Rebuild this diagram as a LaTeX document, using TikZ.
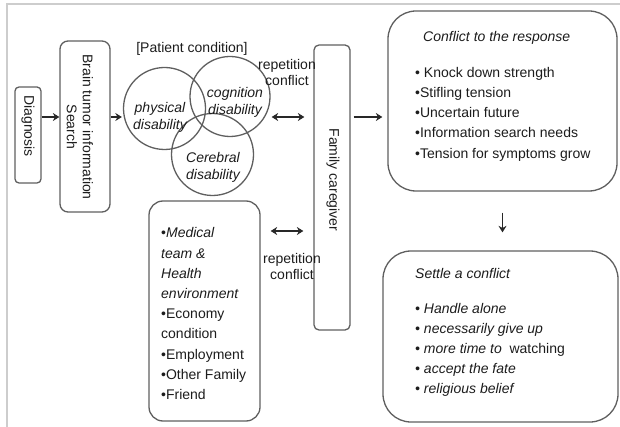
\documentclass[tikz,border=0pt]{standalone}
\usepackage{fontspec}
\setmainfont{Liberation Sans}
\usetikzlibrary{arrows.meta,calc}
\definecolor{boxgray}{RGB}{95,95,95}
\definecolor{txt}{RGB}{28,28,28}
\definecolor{framegray}{RGB}{205,205,205}
\definecolor{arrowgray}{RGB}{40,40,40}
\begin{document}
\begin{tikzpicture}[x=1pt,y=-1pt,
  box/.style={draw=boxgray, line width=1.3pt, rounded corners=#1, inner sep=0pt},
  box/.default=8pt,
  ring/.style={draw=boxgray, line width=1.3pt, circle, inner sep=0pt, minimum size=#1},
  lbl/.style={text=txt, inner sep=0pt, font=\fontsize{14}{16}\selectfont},
  list/.style={text=txt, inner sep=0pt, align=left, anchor=north west, font=\fontsize{14}{20.2}\selectfont},
  arr/.style={draw=arrowgray, line width=1.4pt, -{Stealth[length=6.5pt,width=8pt]}},
  darr/.style={draw=arrowgray, line width=1.4pt, {Stealth[length=6.5pt,width=8pt]}-{Stealth[length=6.5pt,width=8pt]}}]
\useasboundingbox (0,0) rectangle (620,427);
% frame lines
\draw[framegray, line width=1.3pt] (7,427) -- (7,4) -- (620,4);
% boxes
\node[box=4pt, minimum width=26pt, minimum height=96pt] (diag) at (28,135) {};
\node[box=8pt, minimum width=50pt, minimum height=171pt] (brain) at (85,126.5) {};
\node[box=5pt, minimum width=36pt, minimum height=285pt] (fam) at (332,187.5) {};
\node[box=28pt, minimum width=229pt, minimum height=180pt] (conf) at (502.5,101) {};
\node[box=28pt, minimum width=235pt, minimum height=171pt] (settle) at (500.5,336.5) {};
\node[box=14pt, minimum width=111pt, minimum height=220pt] (env) at (204.5,311) {};
% circles
\node[ring=82pt] (phys) at (164.5,108.5) {};
\node[ring=80pt] (cog) at (230,96.5) {};
\node[ring=82pt] (cer) at (212.5,154.5) {};
% rotated labels
\node[lbl, rotate=-90] (diagtxt) at (28,126) {Diagnosis};
\node[lbl, rotate=-90, align=center] (braintxt) at (80,127) {Brain tumor information\\Search};
\node[lbl, rotate=-90] (famtxt) at (333,180) {Family caregiver};
% circle labels
\node[lbl] (patient) at (192,49) {[Patient condition]};
\node[lbl, align=center, font=\fontsize{14}{17}\selectfont\itshape] (phystxt) at (160,117) {physical\\disability};
\node[lbl, align=center, font=\fontsize{14}{17}\selectfont\itshape] (cogtxt) at (235,102.5) {cognition\\disability};
\node[lbl, align=center, font=\fontsize{14}{17}\selectfont\itshape] (certxt) at (213,167.5) {Cerebral\\disability};
\node[lbl, align=center, font=\fontsize{14}{15}\selectfont] (rep1) at (287,72.5) {repetition\\conflict};
\node[lbl, align=center, font=\fontsize{14}{16}\selectfont] (rep2) at (292,266) {repetition\\conflict};
% conflict box text
\node[lbl, anchor=west, font=\fontsize{14}{16}\selectfont\itshape] (conftitle) at (423,38) {Conflict to the response};
\node[list] (conflist) at (415,67) {• Knock down strength\\•Stifling tension\\•Uncertain future\\•Information search needs\\•Tension for symptoms grow};
% settle box text
\node[lbl, anchor=west, font=\fontsize{14}{16}\selectfont\itshape] (settletitle) at (415,273) {Settle a conflict};
\node[list, font=\fontsize{14}{19.8}\selectfont\itshape] (settlelist) at (415,303.5) {• Handle alone\\• necessarily give up\\• more time to\ \ \upshape watching\\• accept the fate\\• religious belief};
% environment box text
\node[list] (envlist) at (161,227.5) {•\textit{Medical}\\\textit{team \&}\\\textit{Health}\\\textit{environment}\\•Economy\\condition\\•Employment\\•Other Family\\•Friend};
% connectors
\coordinate (r1) at (0,117);
\coordinate (r2) at (0,231);
\draw[arr] (diag.east |- r1) -- (brain.west |- r1);
\draw[arr] (brain.east |- r1) -- ([xshift=-1pt]phys.west |- r1);
\draw[darr] ([xshift=1pt]cog.east |- r1) -- ([xshift=-9pt]fam.west |- r1);
\draw[arr] ([xshift=3pt]fam.east |- r1) -- ([xshift=-5pt]conf.west |- r1);
\draw[arr] ([yshift=-21pt]conf.south) -- ([yshift=18pt]conf.south |- settle.north);
\draw[darr] ([xshift=10pt]env.east |- r2) -- ([xshift=-10pt]fam.west |- r2);
\end{tikzpicture}
\end{document}
